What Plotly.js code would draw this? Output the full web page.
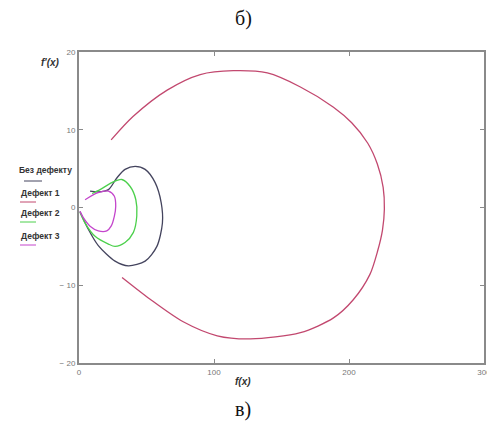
<!DOCTYPE html>
<html>
<head>
<meta charset="utf-8">
<script src="https://cdn.plot.ly/plotly-3.0.1.min.js"></script>
<style>
  html, body { margin: 0; padding: 0; background: #ffffff; }
  #chart { width: 487px; height: 432px; }
</style>
</head>
<body>
<div id="chart"></div>
<script>
// Series names as shown in the legend
const seriesNames = ["Без дефекту", "Дефект 1", "Дефект 2", "Дефект 3"];

// Без дефекту: outer closed loop near the origin
const noDefectX = [0.7, 6.9, 14.3, 26.7, 36.6, 49, 57.7, 61.8, 60.9, 56.4, 49, 41.6, 34.1, 28, 21.8, 14.1, 8.2];
const noDefectY = [-0.5, -2.8, -4.9, -6.9, -7.5, -6.9, -5, -2, 0.6, 3.2, 4.9, 5.3, 4.9, 3.8, 2.3, 2.0, 2.1];

// Дефект 1: the large loop
const defect1X = [23.8, 40, 65.3, 89.8, 114.3, 139.5, 164, 188.5, 202, 213.8, 221, 225.3, 226.2, 224.8, 221.2, 215.5, 203, 188.5, 164, 127, 102.4, 77.2, 52.7, 31.9];
const defect1Y = [8.7, 11.7, 15.1, 17.1, 17.6, 17.3, 15.5, 12.9, 10.9, 8.3, 5.6, 2.6, -0.2, -2.9, -5.6, -8.6, -11.9, -14.2, -16.1, -16.9, -16.5, -14.7, -11.8, -9];

// Дефект 2: middle loop
const defect2X = [0.7, 4.5, 11.9, 21.8, 26.7, 34.1, 40.3, 42.8, 42.1, 37.9, 31.7, 24.3, 15.6, 9.7];
const defect2Y = [-0.6, -2, -3.7, -4.7, -5, -4.5, -3.2, -1.1, 1, 2.7, 3.6, 3.2, 2.3, 1.8];

// Дефект 3: inner loop
const defect3X = [0.7, 3.2, 8.2, 14.3, 20.6, 23.8, 26.2, 27.2, 26.2, 21.8, 14.1, 4.5];
const defect3Y = [-0.5, -1.3, -2.4, -3, -3, -2.4, -1.1, 0.17, 1.45, 2.1, 1.9, 1.0];

// Axis ticks
const xTickVals = [0, 100, 200, 300];
const xTickText = ["0", "100", "200", "300"];
const yTickVals = [-20, -10, 0, 10, 20];
const yTickText = ["− 20", "− 10", "0", "10", "20"];

const colors = ["#44445e", "#c2486f", "#4cd04c", "#c446cc"];

function curve(x, y, i) {
  return {
    x: x, y: y, name: seriesNames[i], type: "scatter", mode: "lines",
    line: { color: colors[i], width: 1.3, shape: "spline", smoothing: 0.8 },
    hoverinfo: "skip", showlegend: false
  };
}

const traces = [
  curve(noDefectX, noDefectY, 0),
  curve(defect1X, defect1Y, 1),
  curve(defect2X, defect2Y, 2),
  curve(defect3X, defect3Y, 3)
];

// plot area in pixels: x 79..484, y 52..363
const L = 79, R = 3, T = 52, B = 69, W = 487, H = 432;
const pw = W - L - R, ph = H - T - B;
const px = v => (v - L) / pw;
const py = v => (H - B - v) / ph;

// legend block drawn to the left of the axis: label with a line sample beneath
const legendRows = [
  { cx: 45, ty: 170, ly: 181, x0: 24, x1: 42 },
  { cx: 40, ty: 193, ly: 202, x0: 20, x1: 36 },
  { cx: 40, ty: 213, ly: 222, x0: 20, x1: 36 },
  { cx: 40, ty: 236, ly: 245, x0: 20, x1: 36 }
];

function label(text, x, y, font) {
  return { text: text, xref: "paper", yref: "paper", x: px(x), y: py(y),
    xanchor: "center", yanchor: "middle", showarrow: false, font: font };
}

const serif20 = { family: "Liberation Serif, Times New Roman, serif", size: 20, color: "#111" };
const sansTitle = { family: "Liberation Sans, Arial, sans-serif", size: 10, color: "#333" };
const sansLegend = { family: "Liberation Sans, Arial, sans-serif", size: 8.5, color: "#333" };

const annotations = [
  label("б)", 243, 19, serif20),
  label("в)", 243, 409, serif20),
  label("<b><i>f'(x)</i></b>", 50, 62, sansTitle),
  label("<b><i>f(x)</i></b>", 243, 381, sansTitle)
];
const shapes = [];
legendRows.forEach((r, i) => {
  annotations.push(label("<b>" + seriesNames[i] + "</b>", r.cx, r.ty, sansLegend));
  shapes.push({ type: "line", xref: "paper", yref: "paper",
    x0: px(r.x0), x1: px(r.x1), y0: py(r.ly), y1: py(r.ly),
    line: { color: colors[i], width: 1 } });
});

const axisCommon = {
  showgrid: false, zeroline: false, showline: true, mirror: "ticks",
  linecolor: "#8a8a8a", linewidth: 2, ticks: "inside", ticklen: 4, tickwidth: 1,
  tickcolor: "#8a8a8a", ticklabeloverflow: "allow",
  tickfont: { family: "Liberation Sans, Arial, sans-serif", size: 8, color: "#777" }
};

const layout = {
  width: W, height: H,
  margin: { l: L, r: R, t: T, b: B, pad: 0 },
  paper_bgcolor: "#ffffff", plot_bgcolor: "#ffffff",
  showlegend: false,
  xaxis: Object.assign({}, axisCommon, { range: [0, 300], tickvals: xTickVals, ticktext: xTickText, fixedrange: true }),
  yaxis: Object.assign({}, axisCommon, { range: [-20, 20], tickvals: yTickVals, ticktext: yTickText, fixedrange: true }),
  annotations: annotations,
  shapes: shapes
};

Plotly.newPlot("chart", traces, layout, { staticPlot: true, displayModeBar: false });
</script>
</body>
</html>
